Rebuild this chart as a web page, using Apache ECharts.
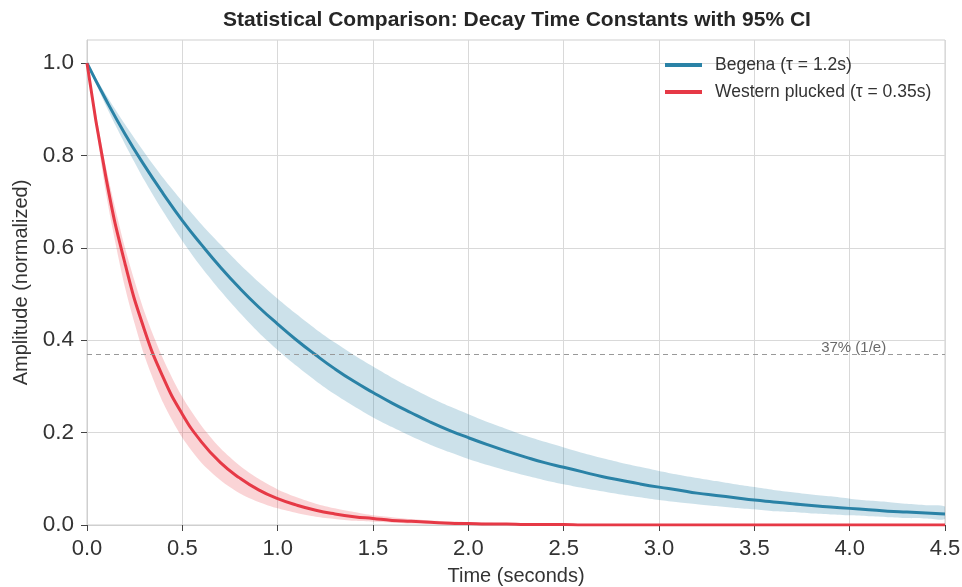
<!DOCTYPE html>
<html>
<head>
<meta charset="utf-8">
<script src="https://cdn.jsdelivr.net/npm/echarts@6/dist/echarts.min.js"></script>
<style>html,body{margin:0;padding:0;background:#fff;}#chart{width:962px;height:587px;}</style>
</head>
<body>
<div id="chart"></div>
<script>
// Time samples (seconds)
const timeS = [0.0,0.1,0.2,0.3,0.4,0.5,0.6,0.7,0.8,0.9,1.0,1.1,1.2,1.3,1.4,1.5,1.6,1.7,1.8,1.9,2.0,2.1,2.2,2.3,2.4,2.5,2.6,2.7,2.8,2.9,3.0,3.1,3.2,3.3,3.4,3.5,3.6,3.7,3.8,3.9,4.0,4.1,4.2,4.3,4.4,4.5];

// Begena (tau = 1.2 s): mean and 95% CI bounds
const begenaMean = [1.000,0.920,0.846,0.779,0.717,0.659,0.607,0.558,0.513,0.472,0.435,0.400,0.368,0.338,0.311,0.287,0.264,0.243,0.223,0.205,0.189,0.174,0.160,0.147,0.135,0.125,0.115,0.105,0.097,0.089,0.082,0.076,0.069,0.064,0.059,0.054,0.050,0.046,0.042,0.039,0.036,0.033,0.030,0.028,0.026,0.024];
const begenaUpper = [1.000,0.931,0.867,0.807,0.751,0.700,0.651,0.607,0.565,0.526,0.490,0.456,0.424,0.395,0.368,0.343,0.319,0.297,0.276,0.257,0.240,0.223,0.208,0.193,0.180,0.168,0.156,0.145,0.135,0.126,0.117,0.109,0.102,0.095,0.088,0.082,0.076,0.071,0.066,0.062,0.057,0.053,0.050,0.046,0.043,0.040];
const begenaLower = [1.000,0.907,0.824,0.747,0.678,0.615,0.558,0.507,0.460,0.417,0.379,0.344,0.312,0.283,0.257,0.233,0.212,0.192,0.174,0.158,0.143,0.130,0.118,0.107,0.097,0.088,0.080,0.073,0.066,0.060,0.054,0.049,0.045,0.041,0.037,0.034,0.030,0.028,0.025,0.023,0.021,0.019,0.017,0.015,0.014,0.013];

// Western plucked (tau = 0.35 s): mean and 95% CI bounds
const westernMean = [1.000,0.751,0.565,0.424,0.319,0.240,0.180,0.135,0.102,0.076,0.057,0.043,0.032,0.024,0.018,0.014,0.010,0.008,0.006,0.004,0.003,0.002,0.002,0.001,0.001,0.001,0,0,0,0,0,0,0,0,0,0,0,0,0,0,0,0,0,0,0,0];
const westernUpper = [1.000,0.774,0.599,0.463,0.359,0.277,0.215,0.166,0.129,0.100,0.077,0.060,0.046,0.036,0.028,0.021,0.017,0.013,0.010,0.008,0.006,0.005,0.004,0.003,0.002,0.002,0.001,0.001,0.001,0,0,0,0,0,0,0,0,0,0,0,0,0,0,0,0,0];
const westernLower = [1.000,0.717,0.513,0.368,0.264,0.189,0.135,0.097,0.069,0.050,0.036,0.026,0.018,0.013,0.009,0.007,0.005,0.003,0.002,0.002,0.001,0,0,0,0,0,0,0,0,0,0,0,0,0,0,0,0,0,0,0,0,0,0,0,0,0];

const seriesNames = ['Begena (τ = 1.2s)', 'Western plucked (τ = 0.35s)'];
const xTicks = [0,0.5,1.0,1.5,2.0,2.5,3.0,3.5,4.0,4.5];
const yTicks = [0,0.2,0.4,0.6,0.8,1.0];
const refLevel = 0.368;
const refLabelX = 4.0;
const refLabel = '37% (1/e)';

const BLUE = '#2A82A6', RED = '#E63946';
const FONT = 'Liberation Sans, Arial, sans-serif';
const pairs = (ys) => timeS.map((t, i) => [t, ys[i]]);

// CI band drawn as a polygon through the axis scales
function bandSeries(upper, lower, color, opacity) {
  return {
    type: 'custom', silent: true, z: 1,
    data: [0],
    renderItem: function (params, api) {
      const pts = [];
      for (let i = 0; i < timeS.length; i++) pts.push(api.coord([timeS[i], upper[i]]));
      for (let i = timeS.length - 1; i >= 0; i--) pts.push(api.coord([timeS[i], lower[i]]));
      return {
        type: 'polygon',
        shape: { points: pts, smooth: 0.25 },
        style: { fill: color, opacity: opacity },
        clipPath: { type: 'rect', shape: { x: params.coordSys.x, y: params.coordSys.y, width: params.coordSys.width, height: params.coordSys.height } }
      };
    }
  };
}

const chart = echarts.init(document.getElementById('chart'));
chart.setOption({
  backgroundColor: '#fff',
  animation: false,
  title: {
    text: 'Statistical Comparison: Decay Time Constants with 95% CI',
    left: 512, top: 5, textAlign: 'center',
    textStyle: { fontFamily: FONT, fontSize: 21, fontWeight: 'bold', color: '#262626' }
  },
  grid: { left: 87, right: 17, top: 40, bottom: 62, show: true, borderColor: '#cfcfcf', borderWidth: 1, containLabel: false, outerBoundsMode: 'none' },
  legend: {
    data: seriesNames,
    orient: 'vertical', left: 660, top: 51,
    itemWidth: 37, itemHeight: 4, itemGap: 9, icon: 'rect',
    textStyle: { fontFamily: FONT, fontSize: 17.5, color: '#333', padding: [0, 0, 0, 8] }
  },
  xAxis: {
    type: 'value', min: 0, max: 4.5, interval: 0.5,
    name: 'Time (seconds)', nameLocation: 'middle', nameGap: 41,
    nameTextStyle: { fontFamily: FONT, fontSize: 20, color: '#333' },
    axisLine: { show: true, lineStyle: { color: '#cfcfcf' } },
    axisTick: { show: true, length: 6, lineStyle: { color: '#444' } },
    axisLabel: { customValues: xTicks, formatter: v => v.toFixed(1), fontFamily: FONT, fontSize: 22, color: '#333', margin: 13 },
    splitLine: { show: true, lineStyle: { color: '#d9d9d9', width: 1 } }
  },
  yAxis: {
    type: 'value', min: 0, max: 1.05, interval: 0.2,
    name: 'Amplitude (normalized)', nameLocation: 'middle', nameGap: 56,
    nameTextStyle: { fontFamily: FONT, fontSize: 20, color: '#333' },
    axisLine: { show: true, lineStyle: { color: '#cfcfcf' } },
    axisTick: { show: true, length: 6, customValues: yTicks, lineStyle: { color: '#444' } },
    axisLabel: { customValues: yTicks, formatter: v => v.toFixed(1), fontFamily: FONT, fontSize: 22.5, color: '#333', margin: 13 },
    splitLine: { show: true, lineStyle: { color: '#d9d9d9', width: 1 } }
  },
  series: [
    bandSeries(begenaUpper, begenaLower, BLUE, 0.24),
    bandSeries(westernUpper, westernLower, RED, 0.22),
    {
      name: seriesNames[0], type: 'line', data: pairs(begenaMean), smooth: true, symbol: 'none',
      lineStyle: { color: BLUE, width: 3 }, itemStyle: { color: BLUE }, z: 3,
      markLine: { silent: true, symbol: 'none', label: { show: false },
        lineStyle: { color: '#999', type: [5, 4], width: 1 }, data: [{ yAxis: refLevel }] }
    },
    { name: seriesNames[1], type: 'line', data: pairs(westernMean), smooth: true, symbol: 'none',
      lineStyle: { color: RED, width: 3 }, itemStyle: { color: RED }, z: 3 },
    { name: 'refText', type: 'scatter', data: [[refLabelX, refLevel]], symbolSize: 0, silent: true,
      label: { show: true, position: 'top', distance: 0, offset: [4, 0], formatter: refLabel, fontFamily: FONT, fontSize: 15, color: '#444' } }
  ]
});
</script>
</body>
</html>
